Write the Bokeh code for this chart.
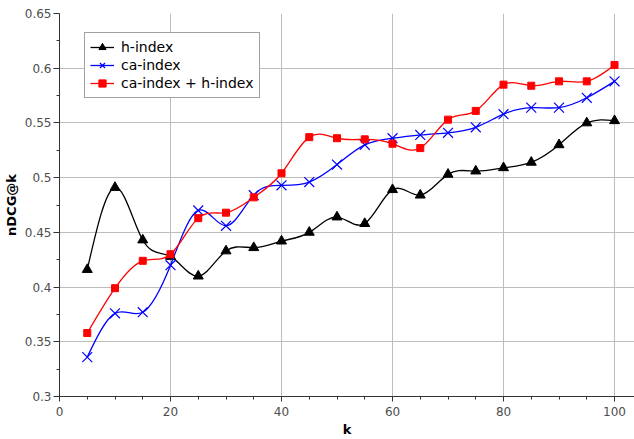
import numpy as np
from bokeh.plotting import figure
from bokeh.models import Range1d, FixedTicker, Legend, LegendItem
from bokeh.embed import file_html
from bokeh.resources import INLINE

# ---- data ----
k = [5, 10, 15, 20, 25, 30, 35, 40, 45, 50, 55, 60, 65, 70, 75, 80, 85, 90, 95, 100]
h_index = [0.416, 0.491, 0.443, 0.428, 0.410, 0.433, 0.436, 0.442, 0.450, 0.464,
           0.458, 0.489, 0.484, 0.503, 0.506, 0.509, 0.514, 0.530, 0.550, 0.552]
ca_index = [0.336, 0.376, 0.377, 0.420, 0.470, 0.456, 0.484, 0.493, 0.496, 0.512,
            0.530, 0.536, 0.539, 0.541, 0.546, 0.558, 0.564, 0.564, 0.573, 0.588]
ca_h_index = [0.358, 0.399, 0.424, 0.430, 0.463, 0.468, 0.482, 0.504, 0.537, 0.536,
              0.535, 0.531, 0.527, 0.553, 0.561, 0.585, 0.584, 0.588, 0.588, 0.603]
series_names = ["h-index", "ca-index", "ca-index + h-index"]
x_ticks = [0, 20, 40, 60, 80, 100]
y_ticks = [0.3, 0.35, 0.4, 0.45, 0.5, 0.55, 0.6, 0.65]
y_tick_labels = ["0.3", "0.35", "0.4", "0.45", "0.5", "0.55", "0.6", "0.65"]
x_label = "k"
y_label = "nDCG@k"

FONT = "DejaVu Sans"


def spline_beziers(x, y):
    """Natural cubic spline through the points, as cubic Bezier segments."""
    x = np.asarray(x, float)
    y = np.asarray(y, float)
    n = len(x)
    h = np.diff(x)
    A = np.zeros((n, n))
    b = np.zeros(n)
    A[0, 0] = 1.0
    A[-1, -1] = 1.0
    for i in range(1, n - 1):
        A[i, i - 1] = h[i - 1]
        A[i, i] = 2 * (h[i - 1] + h[i])
        A[i, i + 1] = h[i]
        b[i] = 6 * ((y[i + 1] - y[i]) / h[i] - (y[i] - y[i - 1]) / h[i - 1])
    M = np.linalg.solve(A, b)
    s = (y[1:] - y[:-1]) / h
    d0 = s - h * (2 * M[:-1] + M[1:]) / 6
    d1 = s + h * (M[:-1] + 2 * M[1:]) / 6
    return dict(x0=x[:-1], y0=y[:-1], x1=x[1:], y1=y[1:],
                cx0=x[:-1] + h / 3, cy0=y[:-1] + d0 * h / 3,
                cx1=x[1:] - h / 3, cy1=y[1:] - d1 * h / 3)


p = figure(width=634, height=439, output_backend="svg", toolbar_location=None,
           x_range=Range1d(0, 103.6), y_range=Range1d(0.3, 0.65),
           min_border_left=58, min_border_right=0, min_border_top=13,
           min_border_bottom=43)
p.outline_line_color = None
p.background_fill_color = "white"
p.border_fill_color = "white"

for ax, ticks, minor in ((p.xaxis[0], x_ticks, list(range(0, 101, 5))),
                         (p.yaxis[0], y_ticks, [0.325, 0.375, 0.425, 0.475, 0.525, 0.575, 0.625])):
    ax.ticker = FixedTicker(ticks=ticks, minor_ticks=minor)
    ax.axis_line_color = "#333333"
    ax.major_tick_line_color = "#333333"
    ax.minor_tick_line_color = "#333333"
    ax.major_tick_in = 0
    ax.minor_tick_in = 0
    ax.minor_tick_out = 3
    ax.major_label_text_font = FONT
    ax.major_label_text_font_size = "12px"
    ax.major_label_text_color = "#4d4d4d"
    ax.axis_label_text_font = FONT
    ax.axis_label_text_font_style = "bold"
    ax.axis_label_text_color = "#000000"

p.xaxis.axis_label = x_label
p.xaxis.axis_label_text_font_size = "13px"
p.xaxis.major_tick_out = 5
p.xaxis.major_label_standoff = 5
p.xaxis.axis_label_standoff = 3

p.yaxis.axis_label = y_label
p.yaxis.axis_label_text_font_size = "13px"
p.yaxis.major_tick_out = 6
p.yaxis.major_label_standoff = 2
p.yaxis.axis_label_standoff = 3
p.yaxis.major_label_overrides = {t: l for t, l in zip(y_ticks, y_tick_labels)}

p.xgrid.ticker = FixedTicker(ticks=x_ticks)
p.ygrid.ticker = FixedTicker(ticks=y_ticks[:-1])
for g in (p.xgrid[0], p.ygrid[0]):
    g.grid_line_color = "#bdbdbd"
    g.grid_line_width = 1

items = []
styles = [
    (h_index, "#000000", "triangle", 10, 1.0),
    (ca_index, "#0000ff", "x", 14, 1.2),
    (ca_h_index, "#ff0000", "square", 7, 1.0),
]
for name, (vals, color, marker, size, lw) in zip(series_names, styles):
    seg = spline_beziers(k, vals)
    br = p.bezier(x0=seg["x0"], y0=seg["y0"], x1=seg["x1"], y1=seg["y1"],
                  cx0=seg["cx0"], cy0=seg["cy0"], cx1=seg["cx1"], cy1=seg["cy1"],
                  line_color=color, line_width=1.3)
    sr = p.scatter(k, vals, marker=marker, size=size, line_color=color,
                   fill_color=color, line_width=lw)
    items.append(LegendItem(label=name, renderers=[br, sr]))

legend = Legend(items=items, location=(25, 298))
legend.label_text_font = FONT
legend.label_text_font_size = "14px"
legend.label_text_color = "#000000"
legend.border_line_color = "#444444"
legend.border_line_width = 1
legend.background_fill_color = "white"
legend.background_fill_alpha = 1.0
legend.padding = 5
legend.spacing = 0
legend.glyph_width = 24
legend.glyph_height = 18
legend.label_height = 18
legend.label_standoff = 7
legend.margin = 0
p.add_layout(legend, "center")

open("out.html", "w").write(file_html(p, INLINE))
